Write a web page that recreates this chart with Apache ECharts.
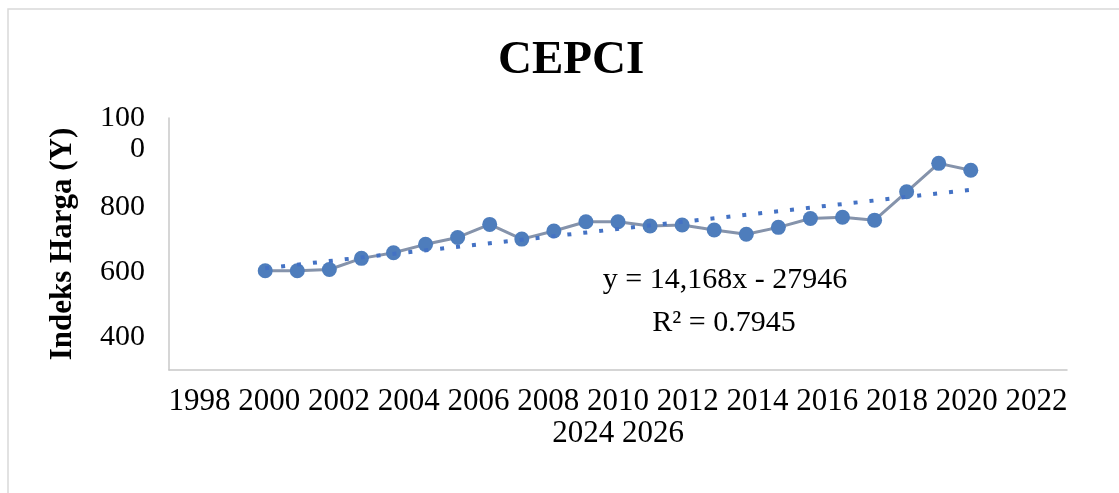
<!DOCTYPE html>
<html lang="id">
<head>
  <meta charset="UTF-8">
  <title>CEPCI</title>
  <style>
    body {
      margin: 0;
      background: #fff;
    }

    #main {
      width: 1119px;
      height: 493px;
    }
  </style>
</head>
<body>
<div id="main"></div>
<script src="https://cdn.jsdelivr.net/npm/echarts@6/dist/echarts.min.js"></script>
<script>
  // data
  const years = [2001, 2002, 2003, 2004, 2005, 2006, 2007, 2008, 2009, 2010, 2011, 2012,
    2013, 2014, 2015, 2016, 2017, 2018, 2019, 2020, 2021, 2022, 2023];
  const cepci = [604, 604, 608, 642, 659, 685, 706, 746, 701, 726, 754, 754,
    741, 744, 729, 716, 737, 764, 768, 759, 846, 933, 912];
  // garis tren (titik awal dan akhir)
  const trendYears = [2001, 2023];
  const trendValues = [612, 852];
  const xTicks = ['1998', '2000', '2002', '2004', '2006', '2008', '2010', '2012', '2014',
    '2016', '2018', '2020', '2022', '2024', '2026'];
  const yTicks = [400, 600, 800, 1000];
  const equation = ['y = 14,168x - 27946', 'R² = 0.7945'];

  const serif = "'Liberation Serif', 'Times New Roman', serif";

  let chart = echarts.init(document.getElementById('main'));

  let option = {
    backgroundColor: '#fff',
    animation: false,
    title: {
      text: 'CEPCI',
      left: 493,
      top: 32,
      textStyle: {
        fontFamily: serif,
        fontSize: 47,
        fontWeight: 'bold',
        color: '#000'
      }
    },
    grid: {
      left: 169,
      right: 52,
      top: 118,
      bottom: 123
    },
    xAxis: {
      type: 'value',
      min: 1998,
      max: 2026,
      interval: 2,
      // label sumbu x dibungkus jadi dua baris seperti di gambar
      name: xTicks.slice(0, 13).join(' ') + '\n' + xTicks.slice(13).join(' '),
      nameLocation: 'middle',
      nameGap: 16,
      nameTextStyle: {
        fontFamily: serif,
        fontSize: 31,
        lineHeight: 32,
        color: '#000'
      },
      axisLine: {
        lineStyle: { color: '#c8c8c8', width: 1.5 }
      },
      axisTick: { show: false },
      axisLabel: { show: false },
      splitLine: { show: false }
    },
    yAxis: {
      type: 'value',
      min: 300,
      max: 1072,
      interval: 100,
      name: 'Indeks Harga (Y)',
      nameLocation: 'middle',
      nameGap: 91,
      nameTextStyle: {
        fontFamily: serif,
        fontSize: 31,
        fontWeight: 'bold',
        color: '#000'
      },
      axisLine: {
        show: true,
        lineStyle: { color: '#c8c8c8', width: 1.5 }
      },
      axisTick: { show: false },
      splitLine: { show: false },
      axisLabel: {
        margin: 24,
        formatter: function (v) {
          if (yTicks.indexOf(v) < 0) return '';
          if (v === 1000) return '{a|100}\n{a|0}\n{s| }';
          return '{a|' + v + '}';
        },
        rich: {
          a: {
            fontFamily: serif,
            fontSize: 30,
            lineHeight: 31.5,
            color: '#000',
            align: 'right'
          },
          s: {
            fontSize: 10,
            lineHeight: 16
          }
        }
      }
    },
    graphic: [
      {
        // bingkai area grafik
        type: 'rect',
        shape: { x: 8, y: 9, width: 1200, height: 600 },
        style: { fill: 'none', stroke: '#d9d9d9', lineWidth: 1.5 },
        silent: true
      },
      {
        type: 'text',
        x: 725,
        y: 280,
        style: {
          text: equation[0],
          fontFamily: serif,
          fontSize: 30,
          fill: '#000',
          align: 'center',
          verticalAlign: 'middle'
        }
      },
      {
        type: 'text',
        x: 724,
        y: 323,
        style: {
          text: equation[1],
          fontFamily: serif,
          fontSize: 30,
          fill: '#000',
          align: 'center',
          verticalAlign: 'middle'
        }
      }
    ],
    series: [
      {
        name: 'CEPCI',
        type: 'line',
        data: years.map((y, i) => [y, cepci[i]]),
        symbol: 'circle',
        symbolSize: 15,
        itemStyle: { color: '#4e7dbc' },
        lineStyle: { color: '#8593ab', width: 3 },
        z: 2
      },
      {
        name: 'Tren',
        type: 'line',
        data: trendYears.map((y, i) => [y, trendValues[i]]),
        symbol: 'none',
        lineStyle: { color: '#4472c4', width: 4, type: [4, 12] },
        z: 3
      }
    ]
  };

  chart.setOption(option);
</script>
</body>
</html>
